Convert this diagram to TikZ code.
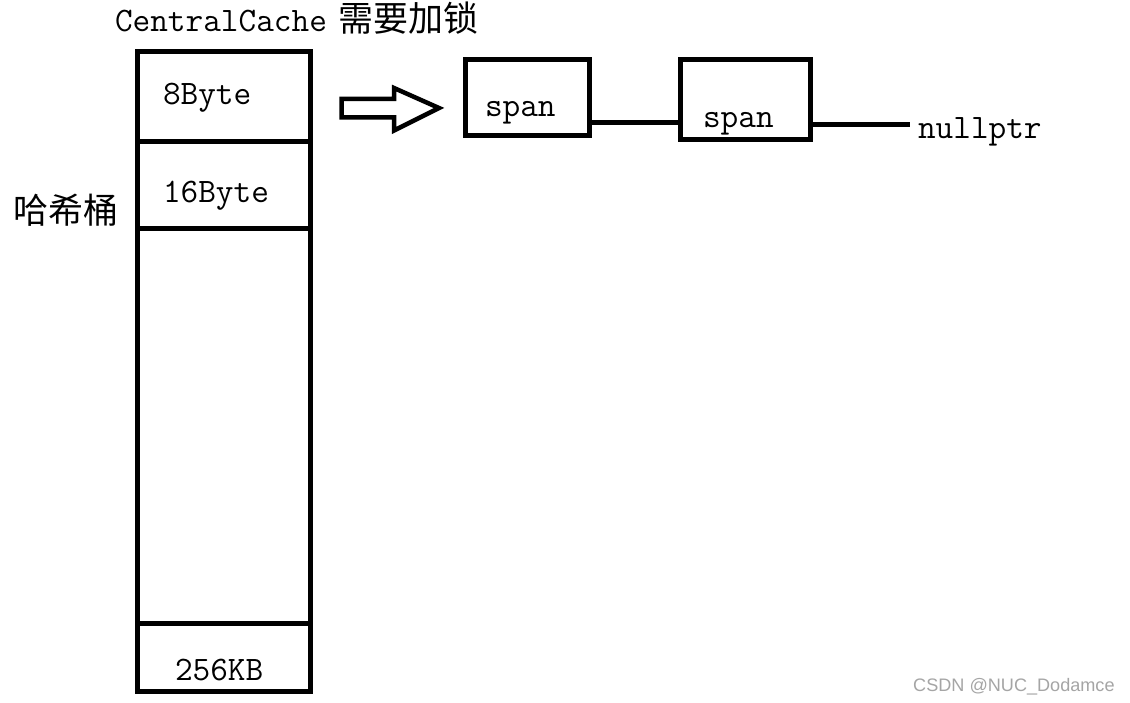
\documentclass[tikz,border=0pt]{standalone}
\usepackage{fontspec}
\setmainfont{Latin Modern Mono}
\newfontfamily\cjk{Noto Sans CJK SC}
\newfontfamily\wmfont{Liberation Sans}
\definecolor{wmgray}{RGB}{165,165,165}
\begin{document}
\begin{tikzpicture}[x=1pt,y=-1pt,
  cell/.style={draw=black,line width=5pt,rectangle,inner sep=0pt,outer sep=0pt},
  lbl/.style={anchor=base west,inner sep=0pt,outer sep=0pt,font=\fontsize{34.3}{40}\selectfont},
  cjklbl/.style={anchor=base west,inner sep=0pt,outer sep=0pt,font=\cjk\fontsize{35}{40}\selectfont},
  link/.style={draw=black,line width=5pt}]
\path[use as bounding box,fill=white] (0,0) rectangle (1130,703);

% hash bucket column
\node[cell,minimum width=173pt,minimum height=90pt] (c8) at (223.5,97) {};
\node[cell,minimum width=173pt,minimum height=87pt] (c16) at (223.5,185.5) {};
\node[cell,minimum width=173pt,minimum height=394pt] (cmid) at (223.5,426) {};
\node[cell,minimum width=173pt,minimum height=68pt] (c256) at (223.5,657) {};

\node[lbl] (t8) at (163,105) {8Byte};
\node[lbl] (t16) at (163,203) {16Byte};
\node[lbl] (t256) at (175,680) {256KB};
\node[cjklbl] (hash) at (13,224) {哈希桶};

% title
\node[lbl] (title) at (115,32) {CentralCache\hspace{12pt}{\cjk\fontsize{35}{40}\selectfont 需要加锁}};

% block arrow
\draw[line width=4.5pt,line join=miter] (341.5,99) -- (394,99) -- (394,88) -- (439,108)
  -- (394,130.5) -- (394,117.5) -- (341.5,117.5) -- cycle;

% span list
\node[cell,minimum width=124pt,minimum height=76.5pt] (s1) at (527.5,97.75) {};
\node[cell,minimum width=130pt,minimum height=80pt] (s2) at (745.5,100) {};
\node[lbl] (st1) at (485,117) {span};
\node[lbl] (st2) at (703,128) {span};
\node[lbl] (np) at (918,139) {nullptr};
\coordinate (y1) at (0,122.5);
\coordinate (y2) at (0,124.5);
\coordinate (npend) at (910,124.5);
\draw[link] (s1.east |- y1) -- (s2.west |- y1);
\draw[link] (s2.east |- y2) -- (npend);

% watermark
\node[anchor=base west,inner sep=0pt,text=wmgray,font=\wmfont\fontsize{18.1}{22}\selectfont] (wm) at (913,691) {CSDN @NUC\_Dodamce};
\end{tikzpicture}
\end{document}
